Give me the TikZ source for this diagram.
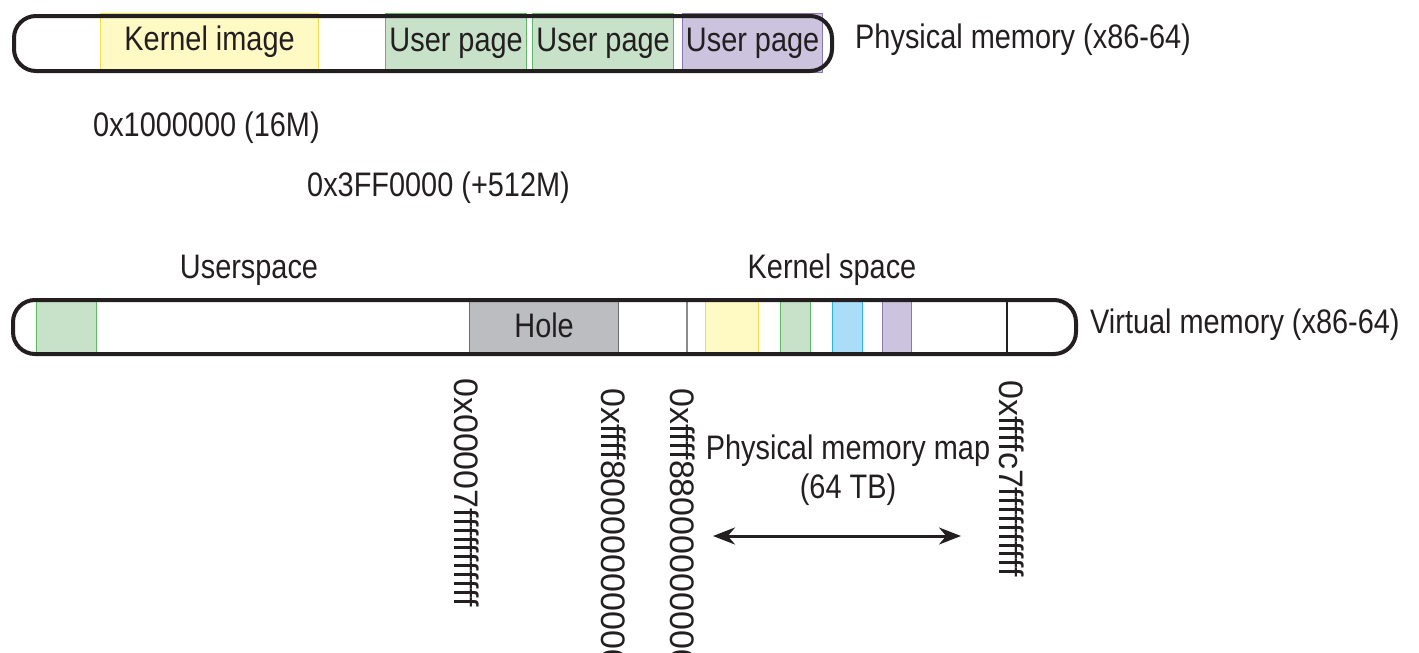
\documentclass[tikz,border=0pt]{standalone}
\usepackage{fontspec}
\setmainfont{Liberation Sans}[FakeStretch=0.85]
\newfontfamily\addrfont{Liberation Sans}[FakeStretch=1.0]
\usetikzlibrary{arrows.meta}
\definecolor{ink}{HTML}{231F20}
\definecolor{yelfill}{HTML}{FFF9C4}
\definecolor{yeledge}{HTML}{F5DE4A}
\definecolor{grnfill}{HTML}{C8E1C9}
\definecolor{grnedge}{HTML}{5DB964}
\definecolor{purfill}{HTML}{CCC3DE}
\definecolor{puredge}{HTML}{8A76B0}
\definecolor{blufill}{HTML}{A9DDF8}
\definecolor{bluedge}{HTML}{27B4EA}
\definecolor{gryfill}{HTML}{BCBDC0}
\definecolor{gryedge}{HTML}{6D6E70}
\begin{document}
\begin{tikzpicture}[x=1pt,y=-1pt,
  txt/.style={font=\fontsize{34}{39}\selectfont, text=ink, inner sep=0pt},
  bar/.style={draw=ink, line width=4pt, rounded corners=22pt, inner sep=0pt, anchor=north west},
  region/.style={inner sep=0pt, anchor=north west, line width=1.2pt, txt},
  yel/.style={region, fill=yelfill, draw=yeledge},
  grn/.style={region, fill=grnfill, draw=grnedge},
  pur/.style={region, fill=purfill, draw=puredge},
  blu/.style={region, fill=blufill, draw=bluedge},
  gry/.style={region, fill=gryfill, draw=gryedge},
  divider/.style={line width=1.2pt},
  vlabel/.style={font=\addrfont\fontsize{34}{39}\selectfont, text=ink, inner sep=0pt, rotate=-90, anchor=west},
  span/.style={line width=3pt, draw=ink, {Stealth[length=22pt,width=17pt]}-{Stealth[length=22pt,width=17pt]}}
]
\useasboundingbox (0,0) rectangle (1419,653);

% ---- physical memory bar ----
\node[yel, minimum width=218pt, minimum height=56pt] (kimg) at (100,13) {Kernel image};
\node[grn, minimum width=141pt, minimum height=59pt] (up1) at (385,13) {User page};
\node[grn, minimum width=141pt, minimum height=59pt] (up2) at (532,13) {User page};
\node[pur, minimum width=140pt, minimum height=59pt] (up3) at (682,13) {User page};
\node[bar, minimum width=818pt, minimum height=55pt] (phys) at (12,14) {};
\node[txt, anchor=west] (physlbl) at (855,40) {Physical memory (x86-64)};

\node[txt, anchor=west] (a16m) at (93,128) {0x1000000 (16M)};
\node[txt, anchor=west] (a512m) at (307,188) {0x3FF0000 (+512M)};

\node[txt] (uspace) at (249,270) {Userspace};
\node[txt] (kspace) at (832,270) {Kernel space};

% ---- virtual memory bar ----
\node[grn, minimum width=60pt, minimum height=54pt] (vuser) at (36,298) {};
\node[gry, minimum width=149pt, minimum height=54pt] (hole) at (469,298) {Hole};
\node[yel, minimum width=53pt, minimum height=54pt] (vkimg) at (705,298) {};
\node[grn, minimum width=30pt, minimum height=54pt] (vgrn) at (780,298) {};
\node[blu, minimum width=30pt, minimum height=54pt] (vblu) at (832,298) {};
\node[pur, minimum width=29pt, minimum height=54pt] (vpur) at (882,298) {};
\coordinate (d1t) at (687,298); \coordinate (d1b) at (687,352);
\coordinate (d2t) at (1007,298); \coordinate (d2b) at (1007,352);
\draw[divider, draw=gryedge!80] (d1t) -- (d1b);
\draw[divider, draw=ink] (d2t) -- (d2b);
\node[bar, minimum width=1063pt, minimum height=54pt] (virt) at (11,298) {};
\node[txt, anchor=west] (virtlbl) at (1090,325) {Virtual memory (x86-64)};

% ---- boundary addresses ----
\node[vlabel] (uend) at (467,378) {0x00007fffffffffff};
\node[vlabel] (kstart) at (614,388) {0xffff800000000000};
\node[vlabel] (mstart) at (683,388) {0xffff880000000000};
\node[vlabel] (mend) at (1012,380) {0xffffc7ffffffffff};

% ---- physical memory map extent ----
\node[txt, align=center] (maplbl) at (848,470) {Physical memory map\\(64 TB)};
\coordinate (ml) at (713,536);
\coordinate (mr) at (961,536);
\draw[span] (ml) -- (mr);
\end{tikzpicture}
\end{document}
